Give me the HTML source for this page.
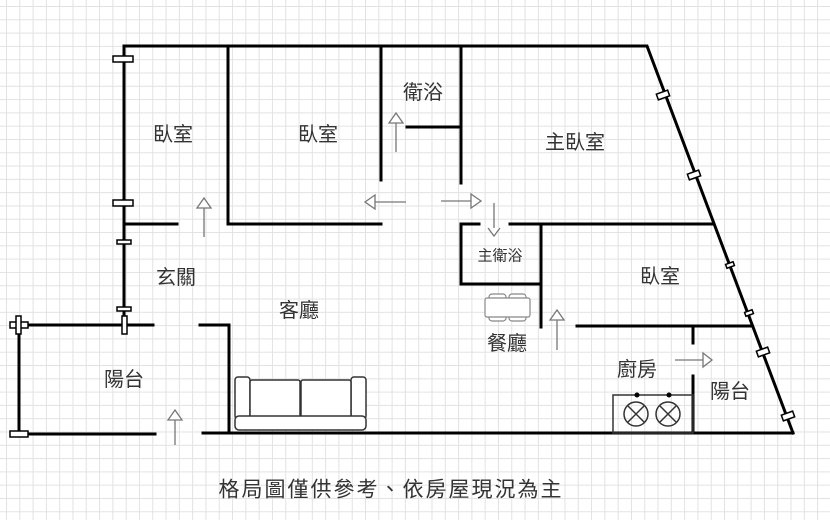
<!DOCTYPE html>
<html><head><meta charset="utf-8"><style>
html,body{margin:0;padding:0}
body{width:830px;height:520px;overflow:hidden;background:#fff;
background-image:linear-gradient(#e2e2e2 1px,transparent 1px),linear-gradient(90deg,#e2e2e2 1px,transparent 1px);background-size:13.3px 13.3px;background-position:6px 6px}
svg{position:absolute;left:0;top:0}
text{font-family:"Liberation Sans","Noto Sans CJK TC",sans-serif;fill:#333;font-size:20px;text-anchor:middle;dominant-baseline:central}
</style></head><body>
<svg width="830" height="520" viewBox="0 0 830 520">
<g stroke="#000" stroke-width="3" fill="none" stroke-linecap="square">
<path d="M124 46 H647 L793 433"/>
<path d="M124 46 V325"/>
<path d="M19 325 H124 M19 325 V434 H155 M203 433 H793"/>
<path d="M124 325 H153 M200 325 H229 V430"/>
<path d="M127 224 H177"/>
<path d="M228 46 V224 H381 M381 46 V180"/>
<path d="M461 46 V183 M407 127 H461"/>
<path d="M461 224 H479 M510 224 H712 M461 224 V284 H541 M541 224 V327"/>
<path d="M577 326 H752 M693 326 V343 M693 376 V433"/>
</g>
<g stroke="#000" stroke-width="1.5" fill="#fff">
<rect x="113" y="56" width="20" height="6"/><rect x="113" y="200" width="20" height="6"/>
<rect x="117" y="240" width="14" height="4"/><rect x="117" y="307" width="14" height="4"/>
<rect x="122" y="316" width="5" height="18"/>
<rect x="10" y="322" width="18" height="6"/><rect x="16" y="316" width="5" height="18"/>
<rect x="10" y="431" width="18" height="6"/>
<g transform="translate(663,95) rotate(-20)"><rect x="-6" y="-3" width="12" height="6"/></g>
<g transform="translate(694,175) rotate(-20)"><rect x="-6" y="-3" width="12" height="6"/></g>
<g transform="translate(730,265) rotate(-20)"><rect x="-4" y="-2" width="8" height="4"/></g>
<g transform="translate(749,313) rotate(-20)"><rect x="-4" y="-2" width="8" height="4"/></g>
<g transform="translate(763,352) rotate(-20)"><rect x="-6" y="-3" width="12" height="6"/></g>
<g transform="translate(788,416) rotate(-20)"><rect x="-6" y="-3" width="12" height="6"/></g>
</g>
<g stroke="#777" stroke-width="1.3" fill="#fff">
<path d="M204 237 V198"/><path d="M197 208 L204 198 L211 208 Z"/>
<path d="M396 152 V113"/><path d="M389 123 L396 113 L403 123 Z"/>
<path d="M406 202 H365"/><path d="M375 195 L365 202 L375 209 Z"/>
<path d="M441 201 H481"/><path d="M471 194 L481 201 L471 208 Z"/>
<path d="M494 203 V236"/><path d="M488 228 L494 236 L500 228"/>
<path d="M557 350 V310"/><path d="M550 320 L557 310 L564 320 Z"/>
<path d="M675 360 H712"/><path d="M703 353 L712 360 L703 367 Z"/>
<path d="M175 445 V410"/><path d="M168 420 L175 410 L182 420 Z"/>
</g>
<g stroke="#333" stroke-width="1.5" fill="#fff">
<rect x="235" y="377" width="15" height="42" rx="3"/><rect x="351" y="377" width="15" height="42" rx="3"/>
<rect x="250" y="380" width="50" height="38" rx="2"/><rect x="301" y="380" width="50" height="38" rx="2"/>
<rect x="235" y="416" width="131" height="14" rx="4"/>
</g>
<g stroke="#888" stroke-width="1.2" fill="#fff">
<rect x="489" y="294" width="17" height="8" rx="3"/><rect x="509" y="294" width="17" height="8" rx="3"/>
<rect x="489" y="313" width="17" height="8" rx="3"/><rect x="509" y="313" width="17" height="8" rx="3"/>
<rect x="485" y="298" width="45" height="19" rx="2"/>
</g>
<g stroke="#333" stroke-width="1.5" fill="none">
<rect x="613" y="395" width="80" height="38"/>
<circle cx="636" cy="414" r="12"/><circle cx="668" cy="414" r="12"/>
<path d="M628 406 L644 422 M644 406 L628 422 M660 406 L676 422 M676 406 L660 422"/>
</g>
<circle cx="637" cy="395" r="2.5" fill="#000"/><circle cx="669" cy="395" r="2.5" fill="#000"/>
<text x="173" y="135">臥室</text>
<text x="318" y="135">臥室</text>
<text x="423" y="93">衛浴</text>
<text x="575" y="143">主臥室</text>
<text x="500" y="256" style="font-size:15px">主衛浴</text>
<text x="660" y="277">臥室</text>
<text x="176" y="278">玄關</text>
<text x="299" y="311">客廳</text>
<text x="507" y="344">餐廳</text>
<text x="124" y="380">陽台</text>
<text x="637" y="370">廚房</text>
<text x="730" y="392">陽台</text>
<text x="391" y="490" style="letter-spacing:2px;font-size:21px">格局圖僅供參考、依房屋現況為主</text>
</svg>
</body></html>
